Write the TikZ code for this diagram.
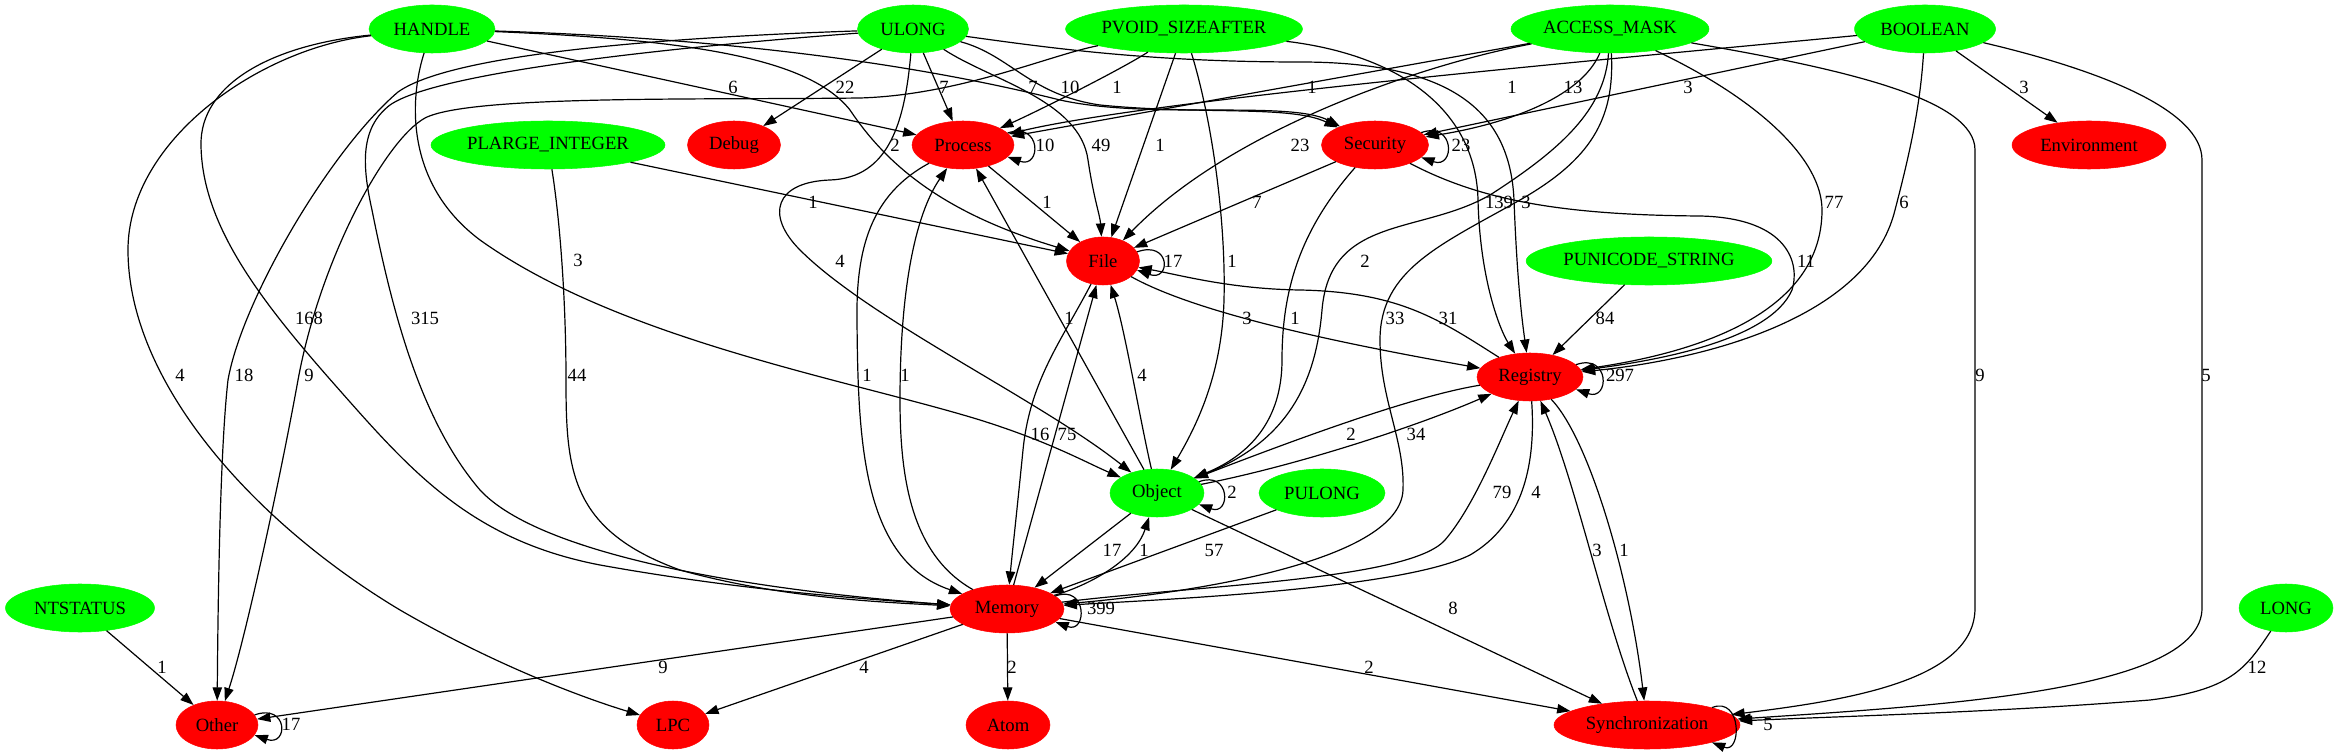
\documentclass[tikz,border=0pt]{standalone}
\usepackage{fontspec}
\setmainfont{Liberation Serif}
\usetikzlibrary{shapes.geometric,arrows.meta}
\definecolor{gvgreen}{RGB}{0,255,0}
\definecolor{gvred}{RGB}{255,0,0}
\begin{document}
\begin{tikzpicture}[x=0.75pt,y=-0.75pt,
  vn/.style={ellipse,inner sep=1pt,minimum height=36pt,font=\fontsize{14}{16}\selectfont},
  gn/.style={vn,fill=gvgreen,draw=gvgreen},
  rn/.style={vn,fill=gvred,draw=gvred},
  edge/.style={draw=black,line width=0.9pt,-{Triangle[length=10pt,width=7pt]}},
  lbl/.style={inner sep=0pt,font=\fontsize{14}{16}\selectfont}]
\useasboundingbox (0,0) rectangle (2339,755);
% ---------- nodes ----------
\node[gn,minimum width=94.5pt]  (HANDLE)   at (432,29)   {HANDLE};
\node[gn,minimum width=83.25pt] (ULONG)    at (913,29)   {ULONG};
\node[gn,minimum width=177pt]   (PVOID)    at (1184,29)  {PVOID\_SIZEAFTER};
\node[gn,minimum width=148.5pt] (ACCESS)   at (1610,29)  {ACCESS\_MASK};
\node[gn,minimum width=105.75pt](BOOLEAN)  at (1925,29)  {BOOLEAN};
\node[gn,minimum width=175.5pt] (PLARGE)   at (548,145)  {PLARGE\_INTEGER};
\node[rn,minimum width=69.75pt] (Debug)    at (734,145)  {Debug};
\node[rn,minimum width=76.5pt]  (Process)  at (963,145)  {Process};
\node[rn,minimum width=80.25pt] (Security) at (1375,145) {Security};
\node[rn,minimum width=115.5pt] (Env)      at (2089,145) {Environment};
\node[rn,minimum width=54.75pt] (File)     at (1103,261) {File};
\node[gn,minimum width=183pt]   (PUNI)     at (1649,261) {PUNICODE\_STRING};
\node[rn,minimum width=79.5pt]  (Registry) at (1530,377) {Registry};
\node[gn,minimum width=70.5pt]  (Object)   at (1157,493) {Object};
\node[gn,minimum width=94.5pt]  (PULONG)   at (1322,493) {PULONG};
\node[gn,minimum width=111.75pt](NTSTATUS) at (80,608)   {NTSTATUS};
\node[rn,minimum width=85.5pt]  (Memory)   at (1007,609) {Memory};
\node[gn,minimum width=70.5pt]  (LONG)     at (2286,608) {LONG};
\node[rn,minimum width=61.5pt]  (Other)    at (217,725)  {Other};
\node[rn,minimum width=54pt]    (LPC)      at (673,725)  {LPC};
\node[rn,minimum width=63pt]    (Atom)     at (1008,725) {Atom};
\node[rn,minimum width=139.5pt] (Sync)     at (1647,725) {Synchronization};
% ---------- edges: top rank to rank 1 ----------
\draw[edge] (HANDLE) -- (Process);
\draw[edge] (ULONG) -- (Debug);
\draw[edge] (ULONG) -- (Process);
\draw[edge] (PVOID) .. controls (1120,70) and (1040,110) .. (Process);
\draw[edge] (ACCESS) -- (Process);
\draw[edge] (BOOLEAN) .. controls (1600,60) and (1150,100) .. (Process);
\draw[edge] (ACCESS) .. controls (1580,100) and (1500,125) .. (Security);
\draw[edge] (BOOLEAN) -- (Security);
\draw[edge] (BOOLEAN) -- (Env);
\draw[edge] (HANDLE) .. controls (780,40) and (960,75) .. (1060,100) .. controls (1150,120) and (1290,100) .. (Security);
\draw[edge] (ULONG) .. controls (1010,55) and (1030,95) .. (1100,105) .. controls (1200,115) and (1290,105) .. (Security);
% ---------- to File ----------
\draw[edge] (HANDLE) .. controls (700,40) and (810,60) .. (850,110) .. controls (890,170) and (950,215) .. (File);
\draw[edge] (ULONG) .. controls (990,80) and (1080,100) .. (1088,160) .. controls (1094,200) and (1100,215) .. (File);
\draw[edge] (PVOID) -- (File);
\draw[edge] (ACCESS) .. controls (1420,65) and (1230,130) .. (File);
\draw[edge] (Security) -- (File);
\draw[edge] (Process) -- (File);
\draw[edge] (PLARGE) -- (File);
% ---------- to Registry ----------
\draw[edge] (PVOID) .. controls (1400,55) and (1476,110) .. (1478,200) .. controls (1480,280) and (1500,330) .. (Registry);
\draw[edge] (ULONG) .. controls (1050,48) and (1150,62) .. (1300,62) .. controls (1450,62) and (1510,110) .. (1514,200) .. controls (1517,280) and (1522,320) .. (Registry);
\draw[edge] (ACCESS) .. controls (1760,100) and (1822,160) .. (1822,210) .. controls (1822,320) and (1680,355) .. (Registry);
\draw[edge] (BOOLEAN) .. controls (1920,110) and (1908,160) .. (1895,210) .. controls (1868,320) and (1700,360) .. (Registry);
\draw[edge] (Security) .. controls (1480,200) and (1560,215) .. (1700,216) .. controls (1790,218) and (1800,265) .. (1792,290) .. controls (1770,340) and (1660,360) .. (Registry);
\draw[edge] (PUNI) -- (Registry);
% ---------- to Object ----------
\draw[edge] (HANDLE) .. controls (412,90) and (400,180) .. (480,240) .. controls (620,340) and (850,380) .. (980,420) .. controls (1050,442) and (1085,462) .. (Object);
\draw[edge] (ULONG) .. controls (905,120) and (890,178) .. (830,180) .. controls (775,182) and (765,215) .. (800,250) .. controls (870,320) and (1040,400) .. (Object);
\draw[edge] (PVOID) .. controls (1212,120) and (1226,220) .. (1224,300) .. controls (1222,370) and (1200,420) .. (Object);
\draw[edge] (Security) .. controls (1300,230) and (1282,290) .. (1282,360) .. controls (1282,420) and (1250,455) .. (Object);
\draw[edge] (ACCESS) .. controls (1605,110) and (1560,150) .. (1490,195) .. controls (1420,235) and (1330,215) .. (1322,310) .. controls (1316,380) and (1290,440) .. (Object);
% ---------- to Memory ----------
\draw[edge] (HANDLE) .. controls (270,45) and (200,85) .. (201,145) .. controls (202,225) and (260,300) .. (335,385) .. controls (410,470) and (470,540) .. (600,565) .. controls (750,592) and (880,600) .. (Memory);
\draw[edge] (ULONG) .. controls (700,45) and (440,70) .. (390,105) .. controls (360,128) and (362,165) .. (372,210) .. controls (392,310) and (420,420) .. (480,490) .. controls (540,555) and (750,590) .. (Memory);
\draw[edge] (PLARGE) .. controls (560,220) and (566,300) .. (566,380) .. controls (566,470) and (570,530) .. (680,570) .. controls (780,598) and (880,602) .. (Memory);
\draw[edge] (Process) .. controls (870,195) and (856,250) .. (857,320) .. controls (858,440) and (862,560) .. (Memory);
\draw[edge] (Memory) .. controls (912,555) and (900,480) .. (900,400) .. controls (900,290) and (915,215) .. (Process);
\draw[edge] (File) .. controls (1062,340) and (1030,380) .. (1023,450) .. controls (1016,520) and (1012,555) .. (Memory);
\draw[edge] (Memory) -- (File);
\draw[edge] (Object) -- (Memory);
\draw[edge] (Memory) .. controls (1090,585) and (1135,560) .. (Object);
\draw[edge] (PULONG) -- (Memory);
\draw[edge] (ACCESS) .. controls (1615,120) and (1590,160) .. (1520,200) .. controls (1440,245) and (1380,270) .. (1380,340) .. controls (1380,400) and (1405,440) .. (1403,490) .. controls (1400,560) and (1200,592) .. (Memory);
\draw[edge] (Registry) .. controls (1535,450) and (1530,520) .. (1470,555) .. controls (1400,590) and (1150,600) .. (Memory);
\draw[edge] (Memory) .. controls (1200,585) and (1410,580) .. (1445,540) .. controls (1475,505) and (1500,440) .. (Registry);
% ---------- middle ----------
\draw[edge] (Object) -- (Process);
\draw[edge] (Object) .. controls (1140,420) and (1125,330) .. (File);
\draw[edge] (File) .. controls (1200,315) and (1350,345) .. (Registry);
\draw[edge] (Registry) .. controls (1440,320) and (1400,292) .. (1300,290) .. controls (1230,289) and (1180,275) .. (File);
\draw[edge] (Registry) .. controls (1420,395) and (1320,430) .. (Object);
\draw[edge] (Object) .. controls (1300,465) and (1420,425) .. (Registry);
\draw[edge] (Registry) .. controls (1590,440) and (1630,580) .. (Sync);
\draw[edge] (Sync) .. controls (1605,620) and (1575,480) .. (Registry);
\draw[edge] (Object) -- (Sync);
% ---------- bottom ----------
\draw[edge] (Memory) -- (Other);
\draw[edge] (Memory) -- (LPC);
\draw[edge] (Memory) -- (Atom);
\draw[edge] (Memory) -- (Sync);
\draw[edge] (NTSTATUS) -- (Other);
\draw[edge] (HANDLE) .. controls (260,48) and (128,140) .. (128,250) .. controls (128,380) and (250,520) .. (400,610) .. controls (500,668) and (590,700) .. (LPC);
\draw[edge] (ULONG) .. controls (650,38) and (450,55) .. (398,92) .. controls (330,150) and (242,300) .. (228,380) .. controls (220,450) and (218,600) .. (Other);
\draw[edge] (PVOID) .. controls (1050,55) and (960,95) .. (860,98) .. controls (700,100) and (470,95) .. (425,118) .. controls (385,140) and (320,260) .. (298,380) .. controls (280,480) and (245,640) .. (Other);
\draw[edge] (ACCESS) .. controls (1850,70) and (1975,100) .. (1975,150) -- (1975,608) .. controls (1975,680) and (1850,700) .. (Sync);
\draw[edge] (BOOLEAN) .. controls (2100,70) and (2202,110) .. (2202,160) -- (2202,608) .. controls (2202,690) and (1950,705) .. (Sync);
\draw[edge] (LONG) .. controls (2245,670) and (2230,690) .. (2150,700) .. controls (2000,712) and (1850,716) .. (Sync);
% ---------- self loops ----------
\draw[edge] (Process.15) .. controls +(34,-12) and +(34,12) .. (Process.-15);
\draw[edge] (Security.15) .. controls +(34,-12) and +(34,12) .. (Security.-15);
\draw[edge] (File.15) .. controls +(34,-12) and +(34,12) .. (File.-15);
\draw[edge] (Registry.15) .. controls +(34,-12) and +(34,12) .. (Registry.-15);
\draw[edge] (Object.15) .. controls +(32,-12) and +(32,12) .. (Object.-15);
\draw[edge] (Memory.15) .. controls +(32,-12) and +(32,12) .. (Memory.-15);
\draw[edge] (Other.15) .. controls +(34,-12) and +(34,12) .. (Other.-15);
\draw[edge] (Sync.15) .. controls +(30,-12) and +(30,12) .. (Sync.-15);
% ---------- labels ----------
\node[lbl] (L1) at (733,87) {6};
\node[lbl] (L2) at (845,87) {22};
\node[lbl] (L3) at (944,87) {7};
\node[lbl] (L4) at (1033,87) {7};
\node[lbl] (L5) at (1070,87) {10};
\node[lbl] (L6) at (1117,87) {1};
\node[lbl] (L7) at (1312,87) {1};
\node[lbl] (L8) at (1512,87) {1};
\node[lbl] (L9) at (1573,87) {13};
\node[lbl] (L10) at (1688,87) {3};
\node[lbl] (L11) at (2024,87) {3};
\node[lbl] (L12) at (895,145) {2};
\node[lbl] (L13) at (1045,145) {10};
\node[lbl] (L14) at (1101,145) {49};
\node[lbl] (L15) at (1160,145) {1};
\node[lbl] (L16) at (1300,145) {23};
\node[lbl] (L17) at (1461,145) {23};
\node[lbl] (L18) at (813,202) {1};
\node[lbl] (L19) at (1047,202) {1};
\node[lbl] (L20) at (1257,202) {7};
\node[lbl] (L21) at (1499,202) {139};
\node[lbl] (L22) at (1526,202) {3};
\node[lbl] (L23) at (1834,202) {77};
\node[lbl] (L24) at (1904,202) {6};
\node[lbl] (L25) at (578,260) {3};
\node[lbl] (L26) at (840,261) {4};
\node[lbl] (L27) at (1173,261) {17};
\node[lbl] (L28) at (1232,261) {1};
\node[lbl] (L29) at (1365,261) {2};
\node[lbl] (L30) at (1806,261) {11};
\node[lbl] (L31) at (309,318) {168};
\node[lbl] (L32) at (425,318) {315};
\node[lbl] (L33) at (1069,318) {1};
\node[lbl] (L34) at (1247,318) {3};
\node[lbl] (L35) at (1295,318) {1};
\node[lbl] (L36) at (1395,318) {33};
\node[lbl] (L37) at (1448,318) {31};
\node[lbl] (L38) at (1605,318) {84};
\node[lbl] (L39) at (180,375) {4};
\node[lbl] (L40) at (244,375) {18};
\node[lbl] (L41) at (309,375) {9};
\node[lbl] (L42) at (577,375) {44};
\node[lbl] (L43) at (867,375) {1};
\node[lbl] (L44) at (905,375) {1};
\node[lbl] (L45) at (1142,375) {4};
\node[lbl] (L46) at (1620,375) {297};
\node[lbl] (L47) at (1980,375) {9};
\node[lbl] (L48) at (2206,375) {5};
\node[lbl] (L49) at (1040,434) {16};
\node[lbl] (L50) at (1067,434) {75};
\node[lbl] (L51) at (1351,434) {2};
\node[lbl] (L52) at (1416,434) {34};
\node[lbl] (L53) at (1232,492) {2};
\node[lbl] (L54) at (1502,492) {79};
\node[lbl] (L55) at (1536,492) {4};
\node[lbl] (L56) at (1112,550) {17};
\node[lbl] (L57) at (1144,550) {1};
\node[lbl] (L58) at (1214,550) {57};
\node[lbl] (L59) at (1597,550) {3};
\node[lbl] (L60) at (1624,550) {1};
\node[lbl] (L61) at (1101,608) {399};
\node[lbl] (L62) at (1453,608) {8};
\node[lbl] (L63) at (162,667) {1};
\node[lbl] (L64) at (663,667) {9};
\node[lbl] (L65) at (864,667) {4};
\node[lbl] (L66) at (1012,667) {2};
\node[lbl] (L67) at (1369,667) {2};
\node[lbl] (L68) at (2257,667) {12};
\node[lbl] (L69) at (291,724) {17};
\node[lbl] (L70) at (1768,724) {5};
\end{tikzpicture}
\end{document}
